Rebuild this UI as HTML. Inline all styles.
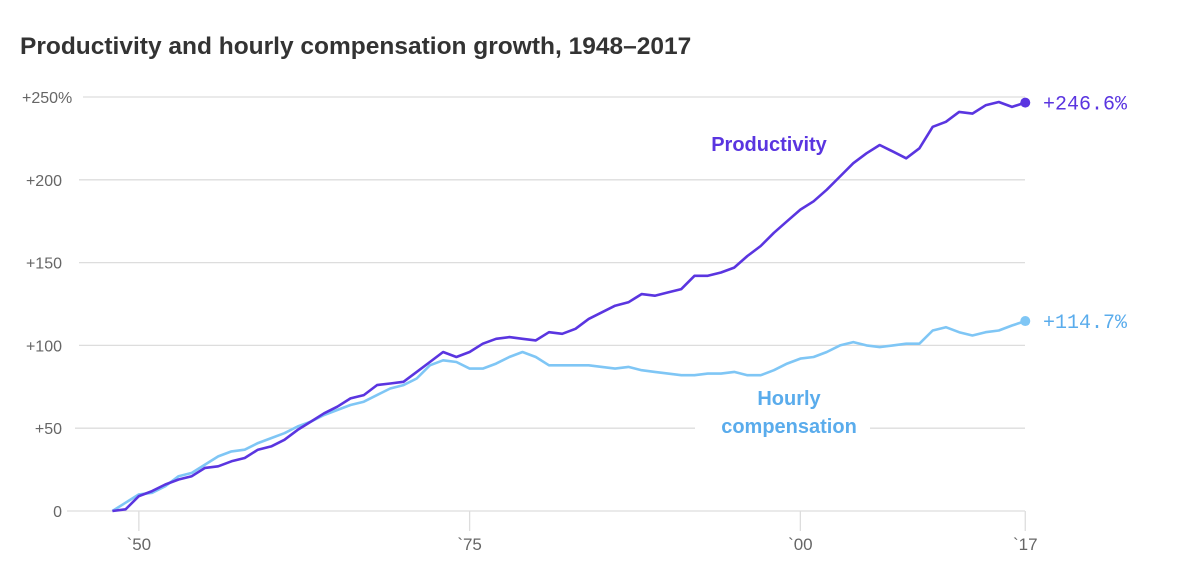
<!DOCTYPE html>
<html><head><meta charset="utf-8"><style>
body{margin:0;background:#fff;width:1200px;height:569px;overflow:hidden;font-family:"Liberation Sans",sans-serif}
</style></head><body>
<svg width="1200" height="569">
<text x="20" y="54" font-size="24.5" font-weight="bold" fill="#333">Productivity and hourly compensation growth, 1948–2017</text>
<g id="grid"></g><g id="xaxis"></g><g id="lines"></g><g id="labels"></g>
</svg>
<script>
const years=[];for(let y=1948;y<=2017;y++)years.push(y);
const productivity=[0,1,9,12,16,19,21,26,27,30,32,37,39,43,49,54,59,63,68,70,76,77,78,84,90,96,93,96,101,104,105,104,103,108,107,110,116,120,124,126,131,130,132,134,142,142,144,147,154,160,168,175,182,187,194,202,210,216,221,217,213,219,232,235,241,240,245,247,244,246.6];
const compensation=[0,5,10,11,15,21,23,28,33,36,37,41,44,47,51,54,58,61,64,66,70,74,76,80,88,91,90,86,86,89,93,96,93,88,88,88,88,87,86,87,85,84,83,82,82,83,83,84,82,82,85,89,92,93,96,100,102,100,99,100,101,101,109,111,108,106,108,109,112,114.7];
const yTicks=[0,50,100,150,200,250];
const yTickLabels=["0","+50","+100","+150","+200","+250%"];
const xTicks=[1950,1975,2000,2017];
const xTickLabels=["`50","`75","`00","`17"];
const NS="http://www.w3.org/2000/svg";
const X=y=>112.4+(y-1948)*13.23;
const Y=v=>511-v*1.656;
function mk(t,a,p){const e=document.createElementNS(NS,t);for(const k in a)e.setAttribute(k,a[k]);p.appendChild(e);return e;}
const grid=document.getElementById('grid');
yTicks.forEach((v,i)=>{
 const lbl=yTickLabels[i];
 const pct=lbl.endsWith('%');
 const t=mk('text',{x:pct?22:62,y:Y(v)+6,'font-size':16,fill:'#666','text-anchor':pct?'start':'end'},grid);t.textContent=lbl;
 
 
 const l=mk('line',{x1:pct?83:67+(lbl.length-1)*4,x2:1025,y1:Y(v),y2:Y(v),stroke:'#ddd','stroke-width':1.3},grid);
 
 
});
const xa=document.getElementById('xaxis');
xTicks.forEach((y,i)=>{
 const l=mk('line',{x1:X(y),x2:X(y),y1:511,y2:531,stroke:'#ddd','stroke-width':1.3},xa);
 
 
 const t=mk('text',{x:X(y),y:550,'font-size':17,fill:'#666','text-anchor':'middle'},xa);t.textContent=xTickLabels[i];
 
 
});
const lines=document.getElementById('lines');
function series(vals,color,tcolor,name){
 const d=vals.map((v,i)=>(i?'L':'M')+X(years[i]).toFixed(1)+','+Y(v).toFixed(1)).join('');
 const p=mk('path',{d:d,fill:'none',stroke:color,'stroke-width':2.6,'stroke-linejoin':'round'},lines);
 
 
 const n=vals.length-1;
 const c=mk('circle',{cx:X(years[n]),cy:Y(vals[n]),r:5,fill:color},lines);
 
 
 const t=mk('text',{x:1043,y:Y(vals[n])+7,'font-size':20,fill:tcolor,'font-family':'Liberation Mono, monospace'},lines);
 t.textContent='+'+vals[n].toFixed(1)+'%';
 
 
}
series(compensation,'#7fc6f5','#5aacec','compensation');
series(productivity,'#5a35e0','#5a35e0','productivity');
const lb=document.getElementById('labels');
mk('rect',{x:695,y:380,width:175,height:62,fill:'#fff'},lb);
const a=mk('text',{x:769,y:151,'font-size':20,'font-weight':'bold',fill:'#5a35e0','text-anchor':'middle'},lb);a.textContent='Productivity';


const b=mk('text',{x:789,y:405,'font-size':20,'font-weight':'bold',fill:'#5aacec','text-anchor':'middle'},lb);b.textContent='Hourly';


const c=mk('text',{x:789,y:433,'font-size':20,'font-weight':'bold',fill:'#5aacec','text-anchor':'middle'},lb);c.textContent='compensation';


</script>
</body></html>
